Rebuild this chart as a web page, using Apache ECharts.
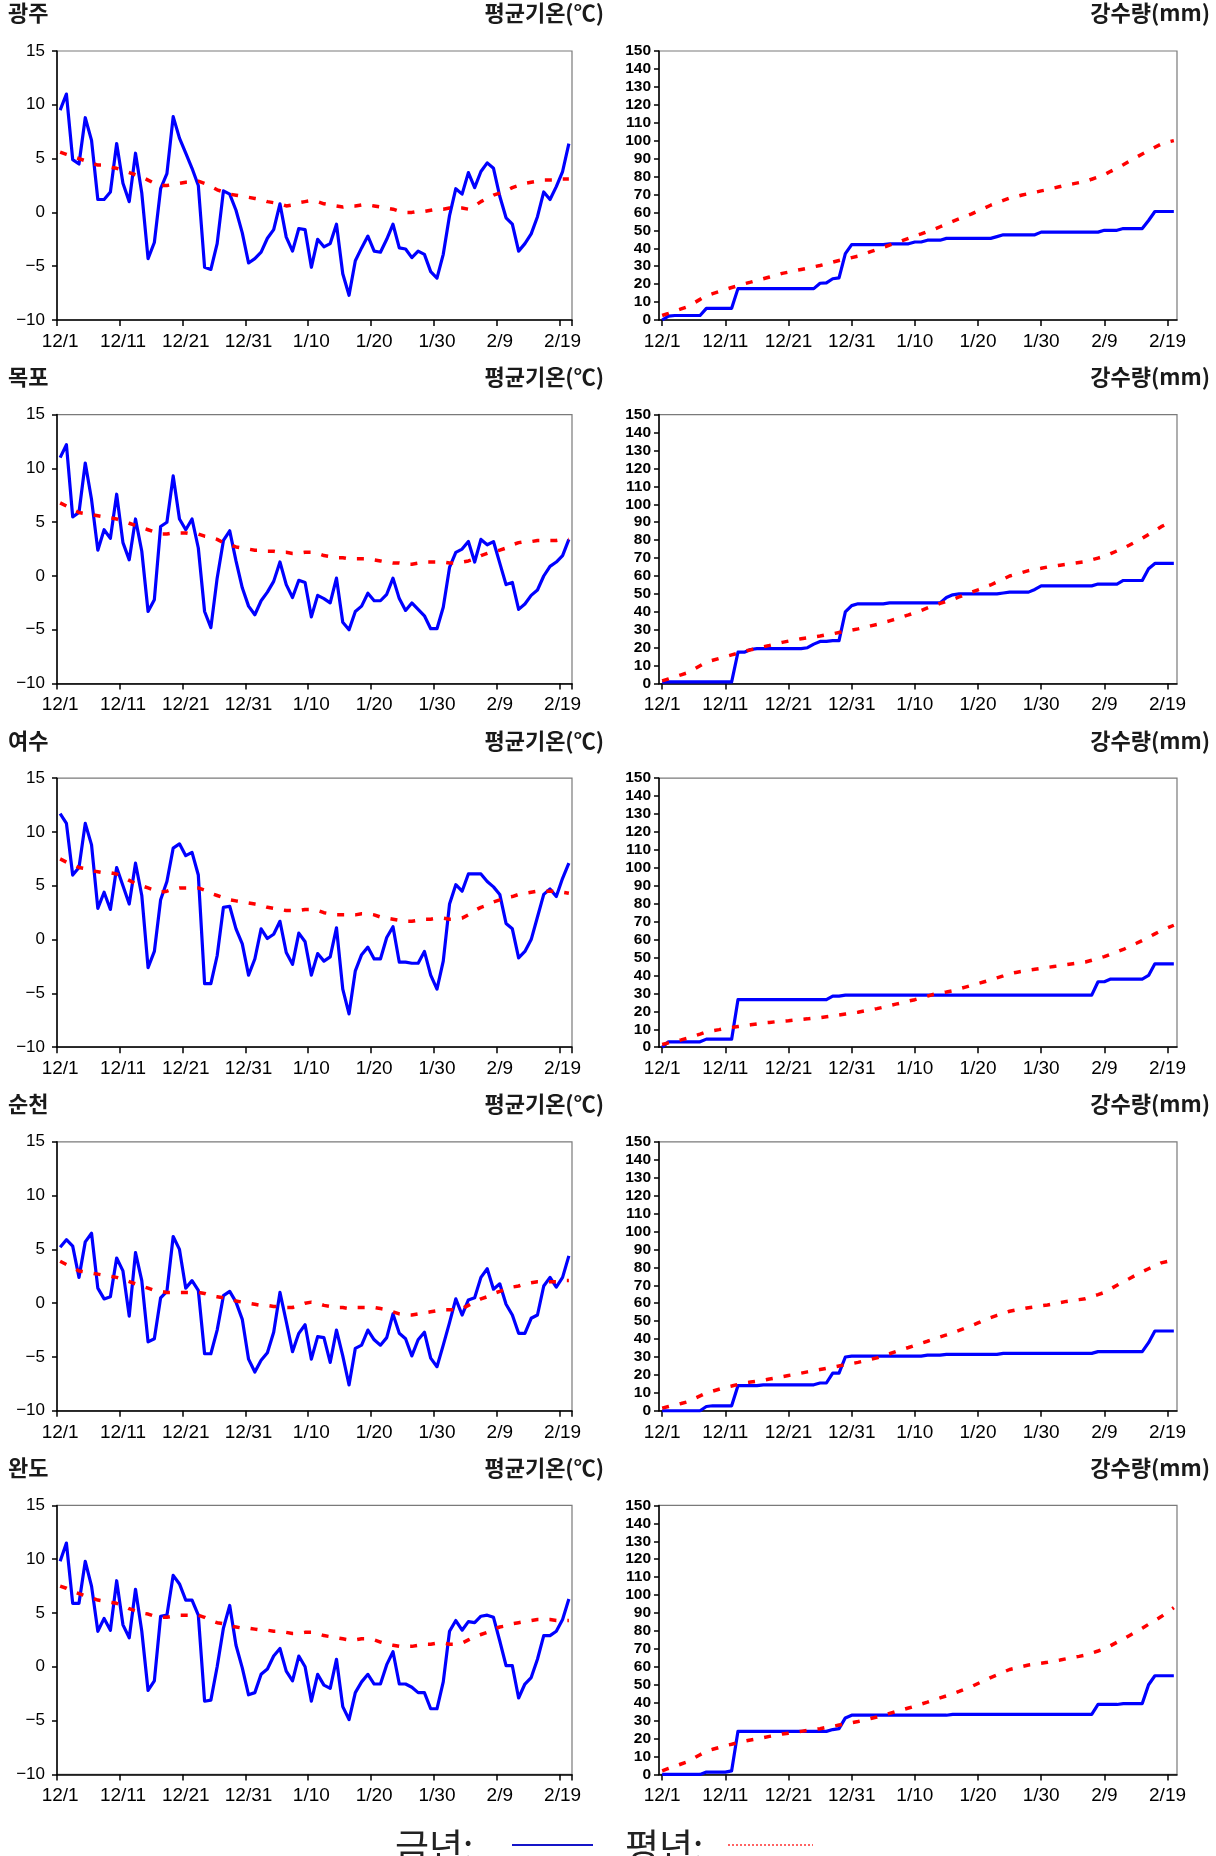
<!DOCTYPE html>
<html><head><meta charset="utf-8">
<script src="https://cdn.jsdelivr.net/npm/echarts/dist/echarts.min.js"></script>
<style>html,body{margin:0;padding:0;background:#fff}#c{width:1216px;height:1856px}</style>
</head><body><div id="c"></div>
<script>
const days = ['12/1','12/2','12/3','12/4','12/5','12/6','12/7','12/8','12/9','12/10',
'12/11','12/12','12/13','12/14','12/15','12/16','12/17','12/18','12/19','12/20',
'12/21','12/22','12/23','12/24','12/25','12/26','12/27','12/28','12/29','12/30','12/31',
'1/1','1/2','1/3','1/4','1/5','1/6','1/7','1/8','1/9','1/10',
'1/11','1/12','1/13','1/14','1/15','1/16','1/17','1/18','1/19','1/20',
'1/21','1/22','1/23','1/24','1/25','1/26','1/27','1/28','1/29','1/30','1/31',
'2/1','2/2','2/3','2/4','2/5','2/6','2/7','2/8','2/9','2/10',
'2/11','2/12','2/13','2/14','2/15','2/16','2/17','2/18','2/19','2/20'];
const stations = ['광주','목포','여수','순천','완도'];
const tempTitle = '평균기온(℃)';
const rainTitle = '강수량(mm)';
const legendNow = '금년:';
const legendNormal = '평년:';

// 광주
const gwangjuTemp = [9.5,11.0,4.9,4.5,8.8,6.7,1.2,1.2,1.9,6.4,
2.7,1.0,5.5,1.8,-4.3,-2.8,2.2,3.6,8.9,6.9,
5.5,4.1,2.5,-5.1,-5.3,-2.9,2.0,1.7,0.2,-1.9,
-4.7,-4.3,-3.7,-2.4,-1.6,0.8,-2.3,-3.6,-1.5,-1.6,
-5.1,-2.5,-3.2,-2.9,-1.1,-5.7,-7.7,-4.5,-3.3,-2.2,
-3.6,-3.7,-2.5,-1.1,-3.3,-3.4,-4.2,-3.6,-3.9,-5.5,
-6.1,-3.9,-0.3,2.2,1.7,3.7,2.3,3.8,4.6,4.1,
1.5,-0.5,-1.1,-3.6,-2.9,-2.0,-0.4,1.9,1.2,2.4,
3.8,6.4];
const gwangjuTempNormal = [5.6,5.4,5.2,5.0,4.8,4.6,4.4,4.4,4.2,4.1,
3.9,3.7,3.5,3.3,3.0,2.7,2.5,2.5,2.6,2.7,
2.8,2.8,2.9,2.7,2.4,2.1,1.9,1.7,1.6,1.5,
1.4,1.3,1.2,1.0,0.9,0.8,0.6,0.7,0.9,1.0,
1.1,1.0,0.8,0.7,0.6,0.5,0.6,0.6,0.7,0.7,
0.6,0.5,0.4,0.3,0.1,0.0,0.0,0.1,0.1,0.2,
0.3,0.3,0.4,0.4,0.4,0.3,0.6,1.0,1.3,1.6,
1.8,2.0,2.3,2.5,2.7,2.8,2.9,3.0,3.0,3.0,
3.1,3.1];
const gwangjuRain = [0,2.2,2.5,2.5,2.5,2.5,2.5,6.5,6.5,6.5,
6.5,6.5,17.5,17.5,17.5,17.5,17.5,17.5,17.5,17.5,
17.5,17.5,17.5,17.5,17.5,20.5,20.7,23,23.5,37,
42,42,42,42,42,42,42.5,42.5,42.5,42.5,
43.5,43.5,44.5,44.5,44.5,45.5,45.5,45.5,45.5,45.5,
45.5,45.5,45.5,46.5,47.5,47.5,47.5,47.5,47.5,47.5,
49,49,49,49,49,49,49,49,49,49,
50,50,50,51,51,51,51,55.5,60.5,60.5,
60.5,60.5];
const gwangjuRainNormal = [2.5,3.7,5.0,6.2,7.4,9.4,11.5,13.5,14.7,15.8,
17.0,18.1,19.1,20.2,21.1,22.1,23.0,24.0,25.0,26.0,
26.7,27.5,28.2,28.9,29.7,30.4,31.3,32.3,33.2,34.0,
34.8,35.6,36.8,38.1,39.3,40.5,41.8,43.0,44.3,45.5,
46.8,48.0,49.3,50.5,52.0,53.5,55.0,56.4,57.8,59.2,
60.8,62.4,64.0,65.3,66.7,68.0,68.8,69.7,70.5,71.2,
72.0,72.7,73.6,74.4,75.3,75.9,76.6,77.2,78.5,79.7,
81.0,82.9,84.7,86.6,88.6,90.6,92.6,94.4,96.3,98.1,
99.2,100.0];

// 목포
const mokpoTemp = [11.0,12.2,5.5,5.9,10.5,7.1,2.4,4.3,3.5,7.6,
3.1,1.5,5.3,2.3,-3.3,-2.2,4.6,5.0,9.3,5.3,
4.3,5.3,2.6,-3.3,-4.8,-0.2,3.3,4.2,1.4,-1.1,
-2.8,-3.6,-2.3,-1.5,-0.5,1.3,-0.8,-2.0,-0.4,-0.6,
-3.8,-1.8,-2.1,-2.5,-0.2,-4.3,-5.0,-3.3,-2.8,-1.6,
-2.3,-2.3,-1.7,-0.2,-2.1,-3.2,-2.5,-3.1,-3.7,-4.9,
-4.9,-2.9,0.8,2.2,2.5,3.2,1.3,3.4,2.9,3.2,
1.2,-0.8,-0.6,-3.1,-2.6,-1.8,-1.3,0.0,0.9,1.3,
1.9,3.4];
const mokpoTempNormal = [6.8,6.5,6.2,5.9,5.8,5.7,5.6,5.5,5.4,5.3,
5.1,4.9,4.7,4.5,4.3,4.1,3.9,3.9,4.0,4.0,
4.0,3.9,3.9,3.7,3.6,3.4,3.1,2.9,2.7,2.6,
2.5,2.4,2.4,2.3,2.3,2.2,2.2,2.1,2.1,2.2,
2.2,2.1,1.9,1.8,1.7,1.7,1.6,1.6,1.6,1.6,
1.5,1.4,1.3,1.2,1.2,1.1,1.1,1.2,1.3,1.3,
1.3,1.3,1.2,1.2,1.3,1.4,1.6,1.9,2.1,2.3,
2.4,2.6,2.9,3.1,3.2,3.2,3.3,3.3,3.3,3.3,
3.4,3.4];
const mokpoRain = [0.8,1,1,1,1,1,1,1,1,1,
1,1,17.5,17.5,19,19.5,19.5,19.5,19.5,19.5,
19.5,19.5,19.5,20,22,23.5,23.5,24,24,40,
43.5,44.5,44.5,44.5,44.5,44.5,45,45,45,45,
45,45,45,45,45,48,49.5,50,50,50,
50,50,50,50,50.5,51,51,51,51,52.5,
54.5,54.5,54.5,54.5,54.5,54.5,54.5,54.5,54.5,55.5,
55.5,55.5,55.5,57.5,57.5,57.5,57.5,64,67,67,
67,67];
const mokpoRainNormal = [1.5,2.6,3.7,4.9,6.0,8.0,10.0,12.0,13.0,14.0,
15.0,16.0,17.0,18.0,18.8,19.7,20.5,21.3,22.2,23.0,
23.7,24.3,25.0,25.5,26.0,26.5,27.2,27.8,28.5,29.2,
29.8,30.5,31.3,32.2,33.0,34.0,35.0,36.0,37.2,38.3,
39.5,40.8,42.2,43.5,44.7,45.8,47.0,48.3,49.7,51.0,
52.3,53.7,55.0,56.7,58.3,60.0,61.0,62.0,63.0,63.7,
64.3,65.0,65.5,66.0,66.5,67.0,67.5,68.0,69.0,70.0,
71.0,72.5,74.0,75.5,77.3,79.2,81.0,83.2,85.3,87.5,
89.2,91.0];

// 여수
const yeosuTemp = [11.7,10.8,6.0,6.7,10.8,8.8,2.9,4.4,2.8,6.7,
5.0,3.3,7.1,4.1,-2.6,-1.1,3.7,5.4,8.5,8.9,
7.8,8.1,6.0,-4.1,-4.1,-1.5,3.0,3.1,1.0,-0.4,
-3.3,-1.8,1.0,0.1,0.5,1.7,-1.2,-2.3,0.6,-0.2,
-3.3,-1.3,-2.0,-1.6,1.1,-4.6,-6.9,-2.9,-1.4,-0.7,
-1.8,-1.8,0.2,1.2,-2.1,-2.1,-2.2,-2.2,-1.1,-3.3,
-4.6,-2.0,3.3,5.1,4.5,6.1,6.1,6.1,5.4,4.9,
4.2,1.5,1.0,-1.7,-1.1,0.0,2.1,4.2,4.7,4.0,
5.7,7.1];
const yeosuTempNormal = [7.5,7.2,7.0,6.7,6.6,6.4,6.3,6.2,6.2,6.1,
5.8,5.5,5.2,5.0,4.8,4.6,4.4,4.5,4.7,4.8,
4.8,4.8,4.8,4.6,4.3,4.1,3.9,3.7,3.6,3.5,
3.4,3.3,3.2,3.0,2.9,2.8,2.7,2.7,2.7,2.8,
2.8,2.7,2.5,2.4,2.3,2.3,2.3,2.3,2.4,2.4,
2.3,2.1,2.0,1.9,1.8,1.7,1.7,1.8,1.9,1.9,
2.0,2.0,1.9,1.9,2.0,2.3,2.7,3.0,3.2,3.5,
3.7,3.9,4.0,4.2,4.3,4.4,4.5,4.5,4.5,4.5,
4.4,4.3];
const yeosuRain = [0,3,3,3,3,3,3,4.5,4.5,4.5,
4.5,4.5,26.5,26.5,26.5,26.5,26.5,26.5,26.5,26.5,
26.5,26.5,26.5,26.5,26.5,26.5,26.5,28.5,28.5,29,
29,29,29,29,29,29,29,29,29,29,
29,29,29,29,29,29,29,29,29,29,
29,29,29,29,29,29,29,29,29,29,
29,29,29,29,29,29,29,29,29,36.5,
36.5,38,38,38,38,38,38,40,46.5,46.5,
46.5,46.5];
const yeosuRainNormal = [1.5,2.4,3.3,4.1,5.0,6.2,7.3,8.5,9.2,9.8,
10.5,11.0,11.5,12.0,12.5,13.0,13.5,13.8,14.2,14.5,
14.8,15.2,15.5,15.8,16.2,16.5,17.0,17.5,18.0,18.5,
19.0,19.5,20.2,20.8,21.5,22.3,23.2,24.0,24.8,25.7,
26.5,27.5,28.5,29.5,30.2,30.8,31.5,32.5,33.5,34.5,
35.5,36.5,37.5,38.7,39.8,41.0,41.7,42.3,43.0,43.5,
44.0,44.5,45.0,45.5,46.0,46.5,47.0,47.5,48.5,49.5,
50.5,51.8,53.2,54.5,56.2,57.8,59.5,61.3,63.2,65.0,
66.5,68.0];

// 순천
const suncheonTemp = [5.2,5.9,5.3,2.4,5.7,6.5,1.4,0.4,0.6,4.2,
3.0,-1.2,4.7,2.1,-3.6,-3.3,0.5,1.1,6.2,5.0,
1.4,2.1,1.2,-4.7,-4.7,-2.5,0.7,1.1,0.1,-1.5,
-5.2,-6.4,-5.3,-4.6,-2.7,1.0,-1.7,-4.5,-2.8,-2.0,
-5.2,-3.1,-3.2,-5.5,-2.5,-4.9,-7.6,-4.2,-3.9,-2.5,
-3.4,-3.9,-3.2,-1.0,-2.8,-3.3,-4.9,-3.4,-2.7,-5.1,
-5.9,-3.9,-1.8,0.4,-1.1,0.3,0.5,2.4,3.2,1.3,
1.8,-0.1,-1.1,-2.8,-2.8,-1.4,-1.1,1.6,2.4,1.5,
2.4,4.4];
const suncheonTempNormal = [3.9,3.6,3.3,3.0,2.9,2.8,2.7,2.6,2.5,2.4,
2.2,2.0,1.8,1.6,1.4,1.2,1.1,1.0,1.0,1.0,
1.0,1.0,1.0,0.9,0.7,0.6,0.5,0.4,0.2,0.1,
0.0,-0.1,-0.2,-0.2,-0.3,-0.3,-0.4,-0.4,-0.2,0.0,
0.1,0.0,-0.2,-0.3,-0.4,-0.4,-0.5,-0.4,-0.4,-0.4,
-0.4,-0.5,-0.6,-0.8,-1.0,-1.1,-1.1,-1.0,-0.9,-0.8,
-0.7,-0.6,-0.6,-0.6,-0.5,-0.2,0.1,0.4,0.6,0.9,
1.1,1.3,1.5,1.6,1.8,1.9,2.0,2.0,2.0,2.0,
2.1,2.1];
const suncheonRain = [0,0,0,0,0,0,0,2.4,2.8,2.8,
2.8,2.8,14,14,14,14,14.5,14.5,14.5,14.5,
14.5,14.5,14.5,14.5,14.5,15.5,15.5,21,21,30,
30.5,30.5,30.5,30.5,30.5,30.5,30.5,30.5,30.5,30.5,
30.5,30.5,31,31,31,31.5,31.5,31.5,31.5,31.5,
31.5,31.5,31.5,31.5,32,32,32,32,32,32,
32,32,32,32,32,32,32,32,32,33,
33,33,33,33,33,33,33,38,44.5,44.5,
44.5,44.5];
const suncheonRainNormal = [1.5,2.4,3.3,4.1,5.0,6.7,8.3,10.0,11.0,12.0,
13.0,13.8,14.7,15.5,16.0,16.5,17.0,17.7,18.3,19.0,
19.7,20.3,21.0,21.7,22.3,23.0,23.7,24.3,25.0,25.7,
26.3,27.0,27.8,28.7,29.5,30.7,31.8,33.0,34.2,35.3,
36.5,37.7,38.8,40.0,41.2,42.3,43.5,44.8,46.2,47.5,
49.0,50.5,52.0,53.2,54.3,55.5,56.2,56.8,57.5,58.0,
58.5,59.0,59.7,60.3,61.0,61.5,62.0,62.5,63.7,64.8,
66.0,68.0,70.0,72.0,73.8,75.7,77.5,79.2,80.8,82.5,
83.3,84.0];

// 완도
const wandoTemp = [9.8,11.5,5.9,5.9,9.8,7.5,3.3,4.5,3.4,8.0,
3.9,2.7,7.2,3.3,-2.2,-1.3,4.7,4.8,8.5,7.7,
6.2,6.2,4.8,-3.2,-3.1,0.0,3.6,5.7,2.0,-0.1,
-2.6,-2.4,-0.7,-0.2,1.0,1.7,-0.4,-1.3,1.0,0.0,
-3.2,-0.7,-1.7,-2.0,0.7,-3.7,-4.9,-2.4,-1.4,-0.7,
-1.6,-1.6,0.2,1.4,-1.6,-1.6,-1.9,-2.4,-2.4,-3.9,
-3.9,-1.4,3.3,4.3,3.4,4.2,4.1,4.7,4.8,4.6,
2.4,0.1,0.1,-2.9,-1.6,-1.0,0.7,2.9,2.9,3.3,
4.4,6.3];
const wandoTempNormal = [7.5,7.3,7.0,6.8,6.6,6.4,6.2,6.1,6.0,5.9,
5.7,5.4,5.2,5.0,4.9,4.7,4.6,4.6,4.7,4.8,
4.8,4.8,4.8,4.6,4.3,4.1,4.0,3.8,3.7,3.6,
3.6,3.5,3.4,3.4,3.3,3.3,3.2,3.1,3.1,3.2,
3.2,3.1,2.9,2.8,2.7,2.6,2.5,2.5,2.6,2.6,
2.5,2.3,2.1,2.0,1.9,1.9,1.9,2.0,2.1,2.1,
2.2,2.2,2.1,2.1,2.2,2.5,2.8,3.0,3.2,3.5,
3.7,3.8,4.0,4.1,4.2,4.3,4.4,4.4,4.4,4.3,
4.3,4.3];
const wandoRain = [0,0,0,0,0,0,0,1.3,1.3,1.3,
1.3,2,24,24,24,24,24,24,24,24,
24,24,24,24,24,24,24,25,25.5,31.5,
33,33,33,33,33,33,33,33,33,33,
33,33,33,33,33,33,33.5,33.5,33.5,33.5,
33.5,33.5,33.5,33.5,33.5,33.5,33.5,33.5,33.5,33.5,
33.5,33.5,33.5,33.5,33.5,33.5,33.5,33.5,33.5,39,
39,39,39,39.5,39.5,39.5,39.5,50,55,55,
55,55];
const wandoRainNormal = [2.0,3.3,4.5,5.8,7.0,9.0,11.0,13.0,14.0,15.0,
16.0,16.8,17.7,18.5,19.2,19.8,20.5,21.2,21.8,22.5,
23.0,23.5,24.0,24.5,25.0,25.5,26.2,26.8,27.5,28.2,
28.8,29.5,30.3,31.2,32.0,33.0,34.0,35.0,36.0,37.0,
38.0,39.2,40.3,41.5,42.7,43.8,45.0,46.3,47.7,49.0,
50.7,52.3,54.0,55.5,57.0,58.5,59.3,60.2,61.0,61.5,
62.0,62.5,63.2,63.8,64.5,65.2,65.8,66.5,67.7,68.8,
70.0,71.8,73.7,75.5,77.5,79.5,81.5,83.7,85.8,88.0,
90.5,93.0];

const tempNow = [gwangjuTemp, mokpoTemp, yeosuTemp, suncheonTemp, wandoTemp];
const tempNormal = [gwangjuTempNormal, mokpoTempNormal, yeosuTempNormal, suncheonTempNormal, wandoTempNormal];
const rainNow = [gwangjuRain, mokpoRain, yeosuRain, suncheonRain, wandoRain];
const rainNormal = [gwangjuRainNormal, mokpoRainNormal, yeosuRainNormal, suncheonRainNormal, wandoRainNormal];

const chart = echarts.init(document.getElementById('c'), null, {renderer:'canvas', width:1216, height:1856});
const TOP0 = 51, PITCH = 363.6, PH = 269;
const grid = [], xAxis = [], yAxis = [], series = [], title = [];
const numFont = "'Liberation Sans', Arial, sans-serif";
const krFont = "'Noto Sans CJK KR', sans-serif";
const BLUE = '#0000FF', RED = '#FF0000';

stations.forEach((name, r) => {
  const top = TOP0 + r * PITCH;
  const ttop = top - 49;
  const tStyle = {fontFamily: krFont, fontSize: 22, fontWeight: 'bold', color: '#1a1a1a'};
  title.push({text: name, left: 8, top: ttop, padding: 0, textStyle: tStyle});
  title.push({text: tempTitle, right: 612, top: ttop, padding: 0, textStyle: tStyle});
  title.push({text: rainTitle, right: 6, top: ttop, padding: 0, textStyle: tStyle});

  const gBase = {show: true, borderColor: '#7a7a7a', borderWidth: 1.2, backgroundColor: '#fff', containLabel: false, outerBoundsMode: 'none'};
  grid.push(Object.assign({left: 57, top: top, width: 515, height: PH}, gBase));
  grid.push(Object.assign({left: 659, top: top, width: 518, height: PH}, gBase));

  const axLine = {show: true, onZero: false, lineStyle: {color: '#000', width: 1.5}};
  const tick = {show: true, inside: false, length: 6, lineStyle: {color: '#000', width: 1.5}};
  const xLab = {fontFamily: numFont, fontSize: 19, color: '#000', margin: 12, interval: 9};

  xAxis.push({gridIndex: 2*r, type: 'category', data: days, boundaryGap: true,
    axisLine: axLine, axisTick: Object.assign({interval: 9, alignWithLabel: false}, tick),
    axisLabel: xLab, splitLine: {show: false}});
  xAxis.push({gridIndex: 2*r+1, type: 'category', data: days, boundaryGap: true,
    axisLine: axLine, axisTick: Object.assign({interval: 9, alignWithLabel: true}, tick),
    axisLabel: xLab, splitLine: {show: false}});

  yAxis.push({gridIndex: 2*r, type: 'value', min: -10, max: 15, interval: 5,
    axisLine: {show: true, lineStyle: {color: '#000', width: 1.5}}, axisTick: Object.assign({}, tick, {length: 5}),
    splitLine: {show: false},
    axisLabel: {fontFamily: numFont, fontSize: 17, color: '#000', margin: 12,
      formatter: v => (v < 0 ? '\u2212' + Math.abs(v) : String(v))}});
  yAxis.push({gridIndex: 2*r+1, type: 'value', min: 0, max: 150, interval: 10,
    axisLine: {show: true, lineStyle: {color: '#000', width: 1.5}}, axisTick: Object.assign({}, tick, {length: 5}),
    splitLine: {show: false},
    axisLabel: {fontFamily: numFont, fontSize: 15.5, fontWeight: 'bold', color: '#000', margin: 8}});

  const blue = {type: 'line', showSymbol: false, symbol: 'none', animation: false,
    lineStyle: {color: BLUE, width: 3.2, join: 'round'}, z: 3};
  const red = {type: 'line', showSymbol: false, symbol: 'none', animation: false,
    lineStyle: {color: RED, width: 3.5, type: [7, 11], cap: 'butt'}, z: 4};
  series.push(Object.assign({name: legendNow, xAxisIndex: 2*r, yAxisIndex: 2*r, data: tempNow[r]}, blue));
  series.push(Object.assign({name: legendNormal, xAxisIndex: 2*r, yAxisIndex: 2*r, data: tempNormal[r]}, red));
  series.push(Object.assign({name: legendNow, xAxisIndex: 2*r+1, yAxisIndex: 2*r+1, data: rainNow[r]}, blue));
  series.push(Object.assign({name: legendNormal, xAxisIndex: 2*r+1, yAxisIndex: 2*r+1, data: rainNormal[r]}, red));
});

const LY = 1845;
const lFont = "normal 37px 'Noto Sans CJK KR', sans-serif";
const graphic = [
  {type: 'text', left: 395, top: 1828, style: {text: legendNow, font: lFont, fill: '#222'}},
  {type: 'line', shape: {x1: 512, y1: LY, x2: 593, y2: LY}, style: {stroke: '#1515c8', lineWidth: 2}},
  {type: 'text', left: 625, top: 1828, style: {text: legendNormal, font: lFont, fill: '#222'}},
  {type: 'line', shape: {x1: 728, y1: LY, x2: 813, y2: LY}, style: {stroke: '#ff3030', lineWidth: 1.5, lineDash: [2, 2]}}
];

chart.setOption({animation: false, backgroundColor: '#fff', title, grid, xAxis, yAxis, series, graphic});
</script>
</body></html>
